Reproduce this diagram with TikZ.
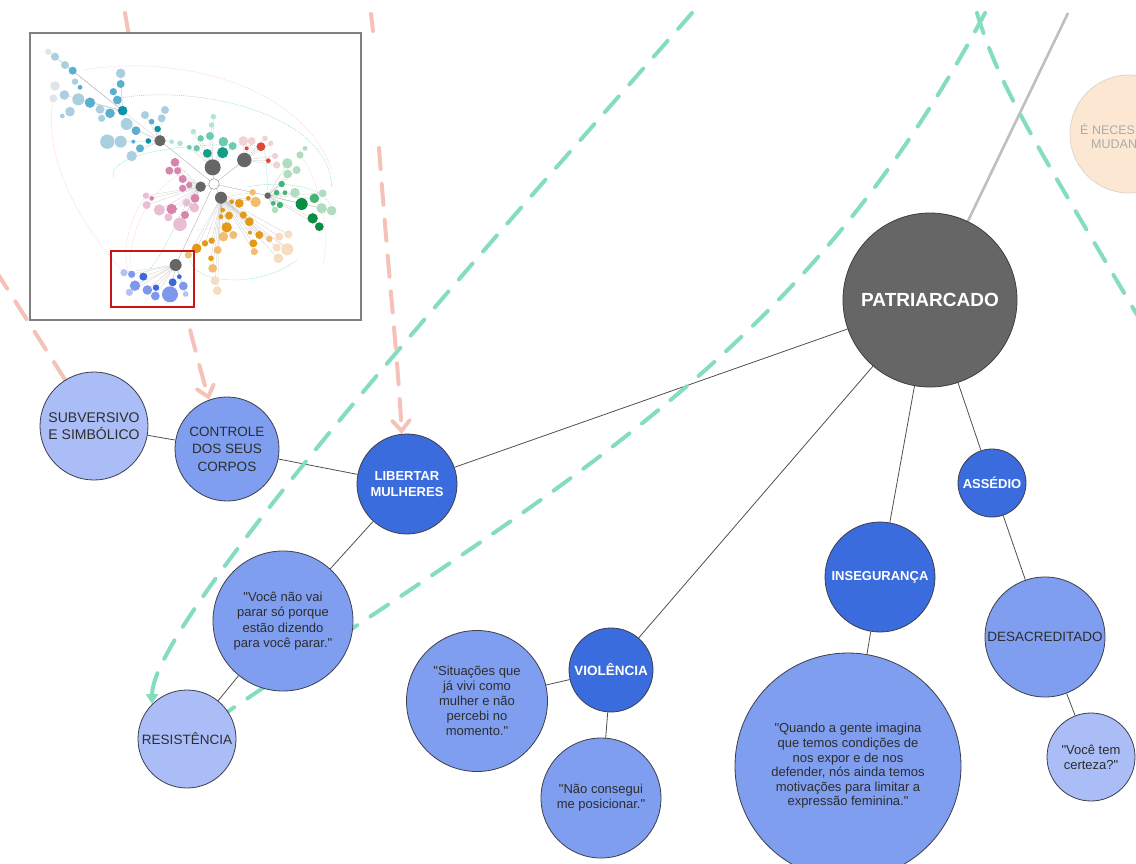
\documentclass[tikz,border=0pt]{standalone}
\usepackage{fontspec}
\setmainfont{Liberation Sans}
\usetikzlibrary{arrows.meta}

\pgfdeclarelayer{paper}
\pgfdeclarelayer{links}
\pgfdeclarelayer{overlay}
\pgfsetlayers{paper,links,main,overlay}

\newcommand{\dq}{\textquotedbl}

% node palette
\definecolor{hubgray}{RGB}{102,102,102}
\definecolor{bluedark}{RGB}{59,108,221}
\definecolor{bluemid}{RGB}{127,158,240}
\definecolor{bluelight}{RGB}{170,189,247}
\definecolor{rim}{RGB}{60,62,75}
\definecolor{ink}{RGB}{45,45,45}
\definecolor{linkc}{RGB}{80,80,80}
\definecolor{mint}{RGB}{132,221,192}
\definecolor{salmon}{RGB}{245,194,185}
\definecolor{peach}{RGB}{252,232,210}
\definecolor{peachrim}{RGB}{218,207,196}
% overview palette
\definecolor{tlA}{RGB}{223,230,234}
\definecolor{tlB}{RGB}{169,207,224}
\definecolor{tlC}{RGB}{90,174,207}
\definecolor{tlD}{RGB}{10,147,168}
\definecolor{gtA}{RGB}{181,227,213}
\definecolor{gtB}{RGB}{108,202,176}
\definecolor{gtC}{RGB}{19,157,135}
\definecolor{rdA}{RGB}{242,211,211}
\definecolor{rdB}{RGB}{224,70,58}
\definecolor{grA}{RGB}{176,221,192}
\definecolor{grB}{RGB}{69,181,119}
\definecolor{grC}{RGB}{11,141,68}
\definecolor{pkA}{RGB}{233,189,211}
\definecolor{pkB}{RGB}{216,132,173}
\definecolor{orA}{RGB}{247,220,194}
\definecolor{orB}{RGB}{242,189,112}
\definecolor{orC}{RGB}{229,154,23}
\definecolor{blA}{RGB}{179,193,243}
\definecolor{blB}{RGB}{127,152,238}
\definecolor{blC}{RGB}{63,103,217}
\definecolor{framegray}{RGB}{128,128,128}
\definecolor{framered}{RGB}{200,20,20}

\tikzset{
  bub/.style={circle, draw=rim, line width=0.8pt, inner sep=0pt, align=center,
              text=ink, font=\fontsize{13}{15}\selectfont},
  darkbub/.style={bub, fill=bluedark, text=white, font=\bfseries\fontsize{13}{16}\selectfont},
  midbub/.style={bub, fill=bluemid},
  lightbub/.style={bub, fill=bluelight},
  link/.style={draw=linkc, line width=0.8pt},
  greendash/.style={draw=mint, line width=4pt, line cap=round, dash pattern=on 21pt off 16pt},
  pinkdash/.style={draw=salmon, line width=4pt, line cap=round, dash pattern=on 21pt off 15pt},
  pinkhead/.style={-{Straight Barb[length=10pt,width=17pt,line cap=round]}},
  greenhead/.style={-{Triangle[width=12pt,length=10pt]}},
  dot/.style={fill=#1},
}

\begin{document}
\begin{tikzpicture}[x=1pt,y=-1pt]
\useasboundingbox (0,0) rectangle (1136,863);
\begin{pgfonlayer}{paper}
  \fill[white] (0,0) rectangle (1136,863);
\end{pgfonlayer}

% ---------- bubbles ----------
\node[circle, draw=rim, line width=0.8pt, fill=hubgray, minimum size=174pt, inner sep=0pt,
      text=white, font=\bfseries\fontsize{19}{22}\selectfont] (patri) at (930,300) {PATRIARCADO};

\node[darkbub, minimum size=100pt, font=\bfseries\fontsize{13}{16.5}\selectfont] (lib) at (407,484) {LIBERTAR\\MULHERES};
\node[midbub, minimum size=104pt, font=\fontsize{13.5}{17.5}\selectfont] (control) at (227,449) {CONTROLE\\DOS SEUS\\CORPOS};
\node[lightbub, minimum size=108pt, font=\fontsize{14}{16.5}\selectfont] (subv) at (94,426) {SUBVERSIVO\\E SIMBÓLICO};
\node[midbub, minimum size=140pt, font=\fontsize{13}{15.3}\selectfont] (voce) at (283,621) {\dq Você não vai\\parar só porque\\estão dizendo\\para você parar.\dq};
\node[lightbub, minimum size=98pt, font=\fontsize{13.5}{16}\selectfont] (resist) at (187,739) {RESISTÊNCIA};

\node[midbub, minimum size=141pt] (situ) at (477,701) {\dq Situações que\\já vivi como\\mulher e não\\percebi no\\momento.\dq};
\node[darkbub, minimum size=84pt, font=\bfseries\fontsize{13.5}{16}\selectfont] (viol) at (611,670) {VIOLÊNCIA};
\node[midbub, minimum size=120pt] (naocons) at (601,798) {\dq Não consegui\\me posicionar.\dq};

\node[darkbub, minimum size=110pt] (inseg) at (880,577) {INSEGURANÇA};
\node[midbub, minimum size=226pt, font=\fontsize{13}{14.6}\selectfont] (quando) at (848,766)
  {\dq Quando a gente imagina\\que temos condições de\\nos expor e de nos\\defender, nós ainda temos\\motivações para limitar a\\expressão feminina.\dq};

\node[darkbub, minimum size=68pt] (assedio) at (992,483) {ASSÉDIO};
\node[midbub, minimum size=120pt, font=\fontsize{13.5}{16}\selectfont] (desacr) at (1045,637) {DESACREDITADO};
\node[lightbub, minimum size=88pt] (certeza) at (1091,757) {\dq Você tem\\certeza?\dq};

% partly visible neighbour at the right edge
\node[circle, fill=peach, draw=peachrim, line width=0.6pt, minimum size=118pt, inner sep=0pt] (mudanca) at (1129,134) {};
\node[anchor=west, inner sep=0pt, text=black!33, font=\fontsize{12.5}{14}\selectfont] (mudA) at (1080,129) {É NECES};
\node[anchor=west, inner sep=0pt, text=black!33, font=\fontsize{12.5}{14}\selectfont] (mudB) at (1091,144) {MUDAN};

% ---------- connectors ----------
\coordinate (grayend) at (1068,13);
\coordinate (g1start) at (692,13);
\coordinate (g2start) at (985,13);
\coordinate (g3start) at (977,13);
\coordinate (g3end) at (1146,330);
\coordinate (p1top) at (371,14);
\coordinate (p1topend) at (373,31);
\coordinate (p1start) at (379,148);
\coordinate (p2start) at (125,13);
\coordinate (p3start) at (-4,271);

\begin{pgfonlayer}{links}
  \draw[link] (patri) -- (lib);
  \draw[link] (patri) -- (viol);
  \draw[link] (patri) -- (inseg);
  \draw[link] (patri) -- (assedio);
  \draw[link] (lib) -- (control);
  \draw[link] (control) -- (subv);
  \draw[link] (lib) -- (voce);
  \draw[link] (voce) -- (resist);
  \draw[link] (viol) -- (situ);
  \draw[link] (viol) -- (naocons);
  \draw[link] (inseg) -- (quando);
  \draw[link] (assedio) -- (desacr);
  \draw[link] (desacr) -- (certeza);
  \draw[draw=black!25, line width=2.6pt] (patri) -- (grayend);

  % mint cross-links
  \draw[greendash, greenhead] (g1start) .. controls (527,202) and (152,617) .. (resist.north west);
  \draw[greendash] (g2start) .. controls (806,349) and (578,476) .. (resist);
  \draw[greendash] (g3start) .. controls (1000,90) and (1040,150) .. (g3end);

  % salmon cross-links
  \draw[pinkdash] (p1top) -- (p1topend);
  \draw[pinkdash, pinkhead] (p1start) .. controls (388,270) and (398,360) .. (lib.96);
  \draw[pinkdash, pinkhead] (p2start) .. controls (150,160) and (180,300) .. (control.110);
  \draw[pinkdash] (p3start) -- (subv.122);
\end{pgfonlayer}

% ---------- overview map ----------
\begin{pgfonlayer}{overlay}
  \fill[white] (30,33) rectangle (361,320);
  \begin{scope}[shift={(30,30)}, scale=1/3]
    % faint long arcs
    \begin{scope}[line width=0.45pt, dash pattern=on 1pt off 1pt]
      \draw[salmon!80] (160,120) .. controls (450,70) and (820,170) .. (905,420);
      \draw[mint] (262,205) .. controls (520,160) and (900,260) .. (905,470);
      \draw[salmon!80] (70,205) .. controls (30,420) and (200,640) .. (282,728);
      \draw[mint] (250,440) .. controls (230,360) and (560,330) .. (693,350);
      \draw[salmon!80] (348,497) .. controls (260,620) and (290,740) .. (305,733);
      \draw[mint] (340,740) .. controls (400,680) and (440,570) .. (470,520);
      \draw[mint] (480,690) .. controls (500,770) and (700,770) .. (800,690);
      \draw[salmon!80] (880,700) .. controls (900,600) and (870,450) .. (810,375);
      \draw[mint] (655,470) .. controls (760,450) and (900,470) .. (905,542);
      \draw[salmon!80] (300,720) .. controls (300,560) and (380,470) .. (470,420);
      \draw[mint] (700,350) .. controls (720,420) and (700,500) .. (735,540);
      \draw[salmon!80] (500,600) .. controls (600,590) and (700,580) .. (772,658);
    \end{scope}
    % spokes
    \begin{scope}[draw=black!22, line width=0.25pt]
      \foreach \a/\b in {548/412,643/390,512/470,573/503,713/497,390/332,437/705}
        \draw[draw=black!40] (552,462) -- (\a,\b);
      \foreach \a/\b in {355/333,383/297,330/355,305/378,272/335,318/302,290/282,278/242,345/255,365/275,395/265,425/335}
        \draw (390,332) -- (\a,\b);
      \foreach \a/\b in {262/210,250/185,272/162,272/130,240/250,210/238,180/218,145/208,103/195,128/122,105/105,75/80,55/65}
        \draw (278,242) -- (\a,\b);
      \foreach \a/\b in {532/370,578/368,540/318,512/325,490/305,500/355,478/352,580/335,608/348,545/285,550/260}
        \draw (548,412) -- (\a,\b);
      \foreach \a/\b in {640/333,665/333,693/350,705/325,722/340,715/392,735/378,740/405,650/355}
        \draw (643,390) -- (\a,\b);
      \foreach \a/\b in {755/462,740/488,765/488,795/488,730/520,750/525,735/540,815/522,853/505,848/565,868/590,875/535,905/542,878/490,772/400,773/432,800/420}
        \draw (713,497) -- (\a,\b);
      \foreach \a/\b in {478/465,458/447,443/422,435/397,418/422,458/475,495/505,470/518,465/555,450/583,425/537,388/540,415/562,348/497,365/505,350/525,493/533}
        \draw (512,470) -- (\a,\b);
      \foreach \a/\b in {605/515,628/520,655/505,668/487,677/516,578/540,597/557,573/560,640/555,658/575,590/592,580/620,610/615,660/608,688/615,718/627,748/620,775/613,670/640,673/665,740/653,772/658,745/685,545/632,525/640,500/655,475/675,563/660,543/685,548/715,555/752,562/782}
        \draw (573,503) -- (\a,\b);
      \foreach \a/\b in {448/740,428/757,420/793,460/768,467/792,340/740,305/733,282/728,315/767,298/787,352/780,378/773,376/798}
        \draw (437,705) -- (\a,\b);
    \end{scope}
    % clusters
    \foreach \col/\pts in {
      tlA/{55/65/8,75/168/12,70/205/10},
      tlB/{75/80/10,105/105/10,135/155/8,103/195/12,145/208/15,210/238/11,215/265/9,120/245/12,97/258/6,272/130/12,290/282/15,232/335/18,272/335/15,305/378/13,345/255/10,395/265/10,405/240/10},
      tlC/{128/122/10,150/172/6,180/218/13,240/250/12,272/162/10,250/185/9,262/210/11,318/302/11,310/335/5,330/355/10,365/275/7},
      tlD/{278/242/12,355/333/7,383/297/8},
      gtA/{550/260/7,545/285/7,490/305/7,425/335/6,450/340/7},
      gtB/{512/325/8,540/318/10,580/335/12,608/348/10,500/355/8,478/352/6},
      gtC/{532/370/11,578/368/14},
      rdA/{640/333/12,665/333/10,705/325/7,722/340/7,735/378/8,740/405/9},
      rdB/{693/350/11,715/392/6,650/355/5},
      grA/{772/400/13,773/432/11,800/420/10,810/375/9,825/355/6,795/488/12,735/540/8,878/490/10,875/535/13,905/542/12},
      grB/{755/462/8,740/488/7,765/488/6,730/520/6,750/525/8,853/505/12},
      grC/{815/522/15,848/565/13,868/590/11},
      pkA/{348/497/8,350/525/10,388/540/14,415/562/10,493/533/12,450/583/17,470/518/10},
      pkB/{435/397/11,418/422/10,443/422/9,458/447/10,478/465/8,458/475/9,495/505/11,365/505/6,425/537/13,465/555/10},
      orA/{748/620/10,775/613/10,740/653/10,772/658/15,745/685/12,555/752/11,562/782/11},
      orB/{668/487/8,677/516/13,580/620/12,610/615/10,718/627/8,673/665/9,563/660/10,548/715/11,475/675/9},
      orC/{628/520/11,605/515/6,655/505/6,578/540/6,597/557/10,573/560/6,640/555/9,658/575/11,590/592/13,660/608/5,688/615/10,670/640/10,545/632/8,525/640/8,500/655/12,543/685/7},
      blA/{282/728/9,298/787/9,467/792/7},
      blB/{305/733/9,315/767/13,352/780/12,376/798/11,420/793/20,460/768/11},
      blC/{340/740/10,378/773/8,428/757/10,448/740/6},
      hubgray/{390/332/14,548/412/20,643/390/18,512/470/13,573/503/15,437/705/15,713/497/8}}
      \foreach \a/\b/\r in \pts \fill[dot=\col] (\a,\b) circle ({1.2*\r});
    \filldraw[fill=white, draw=black!50, line width=0.4pt] (552,462) circle (16);
  \end{scope}
  \draw[framered, line width=1.8pt] (111,251) rectangle (194,307);
  \draw[framegray, line width=1.8pt] (30,33) rectangle (361,320);
\end{pgfonlayer}
\end{tikzpicture}
\end{document}
